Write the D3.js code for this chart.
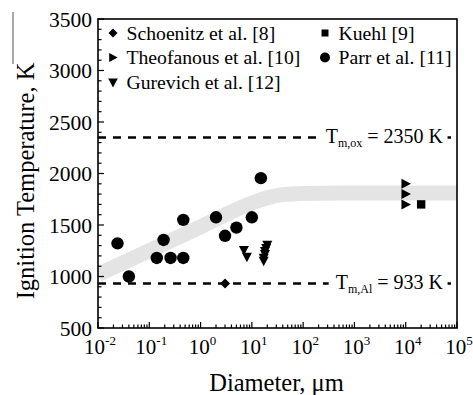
<!DOCTYPE html>
<html><head><meta charset="utf-8">
<script src="https://cdn.jsdelivr.net/npm/d3@7"></script>
<style>body{margin:0;background:#fff}svg{display:block}</style>
</head><body><svg id="c" width="473" height="395" font-family="'Liberation Serif', 'Times New Roman', Tinos, 'DejaVu Serif', serif"></svg>
<script>
// ---- data ----
const schoenitz = [[3, 933]];
const kuehl = [[2e4, 1700]];
const theofanous = [[1e4, 1900], [1e4, 1800], [1e4, 1700]];
const parr = [[0.024,1322],[0.040,1000],[0.14,1180],[0.19,1355],[0.26,1180],[0.46,1180],[0.46,1550],[2,1575],[3,1395],[5,1475],[10,1575],[15,1955]];
const gurevich = [[7,1255],[8,1190],[20,1305],[19,1275],[18,1245],[18,1215],[17,1180],[17,1150]];
const band = [[0.01,1020],[0.1,1251],[1,1482],[10,1713],[20,1765],[40,1795],[100,1806],[1000,1810],[1e5,1810]];
const refLines = [{t:2350, main:"T", sub:"m,ox", rest:" = 2350 K"}, {t:933, main:"T", sub:"m,Al", rest:" = 933 K"}];
const xTickExp = [-2,-1,0,1,2,3,4,5];
const yTicks = [500,1000,1500,2000,2500,3000,3500];
const legendItems = [
  {name:"Schoenitz et al. [8]", sym:"diamond", col:0, row:0},
  {name:"Kuehl [9]", sym:"square", col:1, row:0},
  {name:"Theofanous et al. [10]", sym:"right", col:0, row:1},
  {name:"Parr et al. [11]", sym:"circle", col:1, row:1},
  {name:"Gurevich et al. [12]", sym:"down", col:0, row:2}
];

const FONT = "'Liberation Serif', 'Times New Roman', Tinos, 'DejaVu Serif', serif";
const L=98, R=457, T=19, B=328;
const svg = d3.select("#c");
const x = d3.scaleLog().domain([1e-2,1e5]).range([L,R]);
const y = d3.scaleLinear().domain([500,3500]).range([B,T]);

svg.append("line").attr("x1",13).attr("x2",13).attr("y1",12).attr("y2",64).attr("stroke","#555").attr("stroke-width",1);

svg.append("clipPath").attr("id","clip").append("rect").attr("x",L).attr("y",T).attr("width",R-L).attr("height",B-T);

// band
svg.append("path").attr("clip-path","url(#clip)")
  .attr("d", d3.line().x(d=>x(d[0])).y(d=>y(d[1])).curve(d3.curveMonotoneX)(band))
  .attr("fill","none").attr("stroke","#e4e4e4").attr("stroke-width",15);

// ref lines
refLines.forEach(r=>{
  const yy = y(r.t);
  svg.append("line").attr("x1",L).attr("x2",R).attr("y1",yy).attr("y2",yy)
    .attr("stroke","#000").attr("stroke-width",2.5).attr("stroke-dasharray","8,7");
  const g = svg.append("g");
  const bg = g.append("rect").attr("fill","#fff");
  const t = g.append("text").attr("font-family",FONT).attr("x",443).attr("y",yy+6).attr("text-anchor","end").attr("font-size",20);
  t.append("tspan").text(r.main);
  t.append("tspan").text(r.sub).attr("font-size",12).attr("dy",4);
  t.append("tspan").text(r.rest).attr("dy",-4);
  const bb = t.node().getBBox();
  bg.attr("x",bb.x-7).attr("y",yy-4).attr("width",bb.width+11).attr("height",8);
});

// frame
svg.append("rect").attr("x",L).attr("y",T).attr("width",R-L).attr("height",B-T).attr("fill","none").attr("stroke","#000").attr("stroke-width",1.6);

// y ticks
const yMinor = d3.range(500,3501,100);
svg.append("g").selectAll("line").data(yMinor).join("line")
  .attr("x1",L).attr("x2",d=>L+(d%500===0?6:3.5)).attr("y1",d=>y(d)).attr("y2",d=>y(d)).attr("stroke","#000").attr("stroke-width",1.2);
svg.append("g").selectAll("text").data(yTicks).join("text").attr("font-family",FONT)
  .attr("x",92).attr("y",d=>y(d)).attr("dy","0.35em").attr("text-anchor","end").attr("font-size",21.5).text(d=>d);

// x ticks
const xMinor = [];
for (let e=-2;e<5;e++) for (let k=1;k<10;k++) xMinor.push([k*Math.pow(10,e), k===1]);
xMinor.push([1e5,true]);
svg.append("g").selectAll("line").data(xMinor).join("line")
  .attr("x1",d=>x(d[0])).attr("x2",d=>x(d[0])).attr("y1",B).attr("y2",d=>B-(d[1]?6:3.5)).attr("stroke","#000").attr("stroke-width",1.2);
const xl = svg.append("g").selectAll("text").data(xTickExp).join("text").attr("font-family",FONT)
  .attr("x",d=>x(Math.pow(10,d))+2).attr("y",354).attr("text-anchor","middle").attr("font-size",21);
xl.append("tspan").text("10");
xl.append("tspan").text(d=>String(d)).attr("font-size",13).attr("dy",-9);

// axis titles
svg.append("text").attr("font-family",FONT).attr("x",(L+R)/2-1).attr("y",391).attr("text-anchor","middle").attr("font-size",24.5).text("Diameter, \u03bcm");
svg.append("text").attr("font-family",FONT).attr("transform","translate(34,181) rotate(-90)").attr("text-anchor","middle").attr("font-size",24.5).text("Ignition Temperature, K");

// symbols
const symPath = (type, s) => {
  if (type==="diamond") return `M0,${-s}L${s},0L0,${s}L${-s},0Z`;
  if (type==="square") return `M${-s},${-s}H${s}V${s}H${-s}Z`;
  if (type==="right") return `M${-s*0.85},${-s}L${s*1.05},0L${-s*0.85},${s}Z`;
  if (type==="down") return `M${-s},${-s*0.85}H${s}L0,${s*1.05}Z`;
  if (type==="circle") return d3.arc()({innerRadius:0,outerRadius:s,startAngle:0,endAngle:2*Math.PI});
};
const plotSet = (data, type, s) => svg.append("g").selectAll("path").data(data).join("path")
  .attr("transform",d=>`translate(${x(d[0])},${y(d[1])})`).attr("d",symPath(type,s)).attr("fill","#000");
plotSet(parr,"circle",6.2);
plotSet(gurevich,"down",5);
plotSet(theofanous,"right",5);
plotSet(kuehl,"square",4.2);
plotSet(schoenitz,"diamond",5);

// legend
const lg = svg.append("g");
const colX = [113, 325], rowY = [33, 57.5, 82.5];
legendItems.forEach(it=>{
  const sx = colX[it.col], sy = rowY[it.row];
  const sz = {diamond:4.5, square:3.5, right:4.5, circle:5, down:4.8}[it.sym];
  lg.append("path").attr("transform",`translate(${sx},${sy})`).attr("d",symPath(it.sym,sz)).attr("fill","#000");
  lg.append("text").attr("font-family",FONT).attr("x",sx+13.5).attr("y",sy+6.5).attr("font-size",19.7).text(it.name);
});
</script></body></html>
